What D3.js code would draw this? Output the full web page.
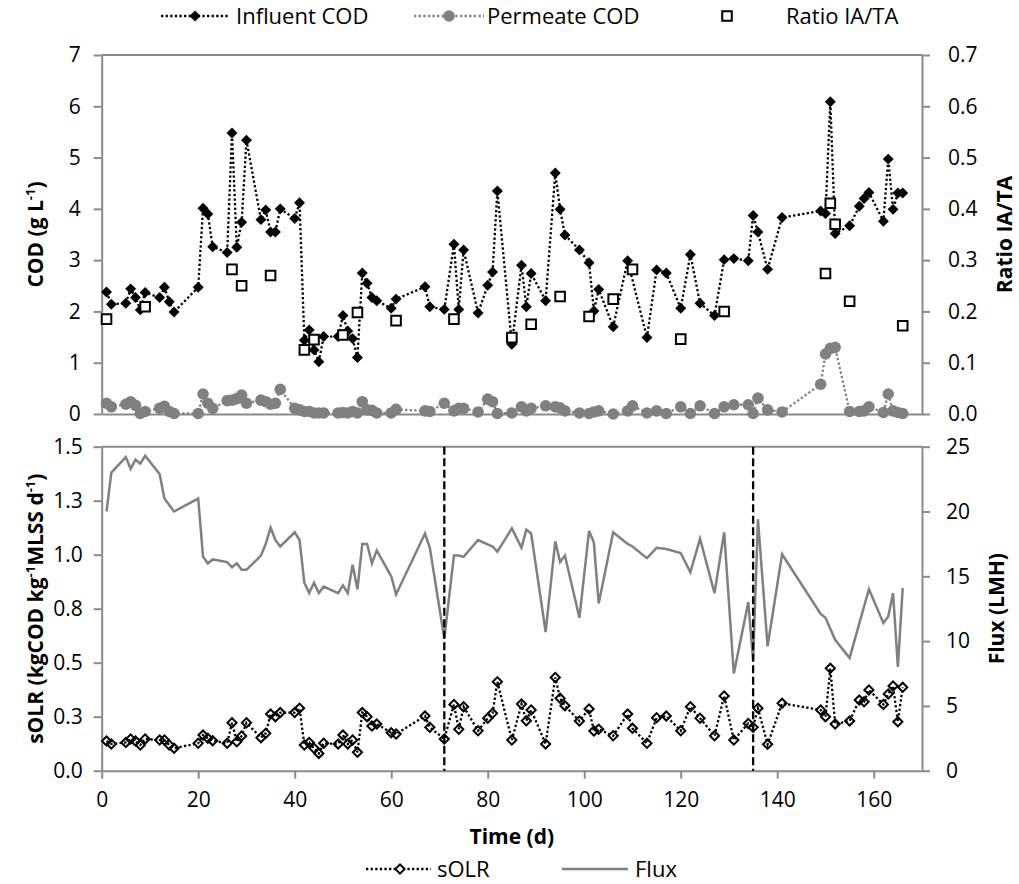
<!DOCTYPE html>
<html><head><meta charset="utf-8">
<script src="https://cdn.jsdelivr.net/npm/d3@7"></script>
<style>
html,body{margin:0;padding:0;background:#fff;}
svg text{font-family:"Open Sans","DejaVu Sans",sans-serif;fill:#000;}
</style></head>
<body>
<svg id="chart" width="1019" height="884"></svg>
<script>
// ---------- data ----------
const influentDays = [1,2,5,6,7,8,9,12,13,14,15,20,21,22,23,26,27,28,29,30,33,34,35,36,37,40,41,42,43,44,45,46,49,50,51,52,53,54,55,56,57,60,61,67,68,71,73,74,75,78,80,81,82,85,87,88,89,92,94,95,96,99,101,102,103,106,109,113,115,117,120,122,124,127,129,131,134,135,136,138,141,149,150,151,152,155,157,158,159,162,163,164,165,166];
const influentCOD = [2.38,2.14,2.16,2.44,2.27,2.03,2.37,2.27,2.47,2.19,1.99,2.47,4.01,3.90,3.26,3.15,5.48,3.25,3.74,5.34,3.79,3.98,3.55,3.55,4.00,3.81,4.12,1.44,1.64,1.25,1.02,1.51,1.51,1.92,1.62,1.47,1.10,2.75,2.55,2.27,2.21,2.06,2.24,2.48,2.09,2.04,3.31,2.04,3.20,1.97,2.51,2.77,4.35,1.36,2.90,2.09,2.74,2.21,4.70,3.99,3.49,3.20,2.95,2.01,2.43,1.70,2.99,1.49,2.81,2.75,2.06,3.11,2.16,1.92,3.01,3.03,2.99,3.87,3.55,2.82,3.83,3.96,3.91,6.09,3.52,3.67,4.05,4.20,4.32,3.76,4.97,3.99,4.31,4.31];

const permeateDays = [1,2,5,6,7,8,9,12,13,14,15,20,21,22,23,26,27,28,29,30,33,34,35,36,37,40,41,42,43,44,45,46,49,50,51,52,53,54,55,56,57,60,61,67,68,71,73,74,75,78,80,81,82,85,87,88,89,92,94,95,96,99,101,102,103,106,109,110,113,115,117,120,122,124,127,129,131,134,135,136,138,141,149,150,151,152,155,157,158,159,162,163,164,165,166];
const permeateCOD = [0.21,0.14,0.19,0.24,0.17,0.01,0.05,0.11,0.15,0.05,0.01,0.01,0.39,0.21,0.11,0.26,0.27,0.30,0.37,0.21,0.27,0.24,0.19,0.21,0.48,0.11,0.08,0.05,0.05,0.02,0.02,0.02,0.02,0.03,0.02,0.05,0.02,0.24,0.08,0.07,0.02,0.02,0.09,0.06,0.05,0.21,0.06,0.11,0.11,0.04,0.29,0.24,0.01,0.02,0.14,0.06,0.11,0.16,0.14,0.12,0.06,0.02,0.01,0.04,0.06,0.00,0.06,0.16,0.02,0.06,0.01,0.14,0.01,0.16,0.01,0.14,0.18,0.18,0.01,0.31,0.08,0.04,0.58,1.17,1.28,1.30,0.05,0.05,0.06,0.14,0.03,0.39,0.06,0.03,0.01];

const ratioDays = [1,9,27,29,35,42,44,50,53,61,73,85,89,95,101,106,110,120,129,150,151,152,155,166];
const ratioIATA = [0.185,0.209,0.282,0.250,0.270,0.125,0.145,0.154,0.198,0.182,0.185,0.149,0.175,0.229,0.190,0.224,0.282,0.146,0.200,0.274,0.411,0.370,0.220,0.172];

const fluxDays = [1,2,5,6,7,8,9,12,13,15,20,21,22,23,26,27,28,29,30,33,34,35,36,37,40,41,42,43,44,45,46,49,50,51,52,53,54,55,56,57,60,61,67,68,71,73,74,75,78,81,82,85,87,88,89,92,94,95,96,99,101,102,103,106,109,110,113,115,117,120,122,124,127,129,131,134,135,136,138,141,149,150,152,155,159,162,163,164,165,166];
const fluxLMH = [20.0,23.0,24.2,23.3,24.0,23.7,24.3,22.9,21.0,20.0,21.0,16.5,16.0,16.3,16.1,15.7,16.0,15.5,15.5,16.6,17.5,18.75,17.8,17.3,18.4,17.8,14.5,13.7,14.5,13.7,14.2,13.7,14.3,13.7,15.9,14.0,17.5,17.5,16.0,17.0,15.0,13.6,18.3,17.2,10.2,16.6,16.6,16.5,17.8,17.3,16.9,18.7,17.2,18.6,18.3,10.7,17.7,16.1,16.6,11.8,18.5,17.6,12.9,18.4,17.5,17.3,16.4,17.2,17.1,16.8,15.3,17.9,13.7,18.4,7.5,13.0,8.5,19.4,9.6,16.7,12.1,11.8,10.1,8.7,14.0,11.4,11.9,13.7,8.0,14.1];

const solrDays = [1,2,5,6,7,8,9,12,13,14,15,20,21,22,23,26,27,28,29,30,33,34,35,36,37,40,41,42,43,44,45,46,49,50,51,52,53,54,55,56,57,60,61,67,68,71,73,74,75,78,80,81,82,85,87,88,89,92,94,95,96,99,101,102,103,106,109,110,113,115,117,120,122,124,127,129,131,134,135,136,138,141,149,150,151,152,155,157,158,159,162,163,164,165,166];
const sOLR = [0.137,0.124,0.131,0.147,0.137,0.119,0.147,0.142,0.142,0.119,0.104,0.127,0.165,0.150,0.139,0.127,0.222,0.134,0.161,0.222,0.153,0.173,0.262,0.250,0.269,0.269,0.289,0.119,0.131,0.104,0.080,0.127,0.124,0.165,0.124,0.142,0.085,0.269,0.250,0.207,0.216,0.176,0.170,0.253,0.201,0.147,0.307,0.192,0.296,0.185,0.243,0.266,0.412,0.142,0.309,0.231,0.281,0.124,0.432,0.335,0.301,0.230,0.286,0.184,0.192,0.162,0.262,0.196,0.127,0.245,0.253,0.185,0.296,0.243,0.162,0.346,0.142,0.219,0.201,0.289,0.122,0.312,0.281,0.250,0.474,0.216,0.230,0.327,0.319,0.374,0.307,0.355,0.392,0.227,0.386];

const phaseDays = [71, 135];

const xTicks = [0,20,40,60,80,100,120,140,160];
const codTicks = [0,1,2,3,4,5,6,7];
const codTickLabels = ["0","1","2","3","4","5","6","7"];
const ratioTicks = [0,0.1,0.2,0.3,0.4,0.5,0.6,0.7];
const ratioTickLabels = ["0.0","0.1","0.2","0.3","0.4","0.5","0.6","0.7"];
const solrTicks = [0,0.25,0.5,0.75,1.0,1.25,1.5];
const solrTickLabels = ["0.0","0.3","0.5","0.8","1.0","1.3","1.5"];
const fluxTicks = [0,5,10,15,20,25];
const fluxTickLabels = ["0","5","10","15","20","25"];

// ---------- layout ----------
const svg = d3.select("#chart");
const L = 101.7, R = 922;
const topT = 55, topB = 414, botT = 446.7, botB = 770.7;
const AX = "#8a8a8a", GR = "#808080";
const FS = 21, LFS = 22;

const x = d3.scaleLinear().domain([0,170]).range([L,R]);
const yCOD = d3.scaleLinear().domain([0,7]).range([topB,topT]);
const yRatio = d3.scaleLinear().domain([0,0.7]).range([topB,topT]);
const ySOLR = d3.scaleLinear().domain([0,1.5]).range([botB,botT]);
const yFlux = d3.scaleLinear().domain([0,25]).range([botB,botT]);

function styleAxis(g){
  g.selectAll("path.domain").attr("stroke",AX).attr("stroke-width",2);
  g.selectAll(".tick line").attr("stroke",AX).attr("stroke-width",2);
  g.selectAll(".tick text").attr("font-size",FS).attr("font-family","Open Sans").attr("fill","#000");
}
function lbl(vals,labels){ return (d)=> labels[vals.indexOf(d)]; }

// top border lines
svg.append("line").attr("x1",L).attr("x2",R).attr("y1",topT).attr("y2",topT).attr("stroke",AX).attr("stroke-width",2);
svg.append("line").attr("x1",L).attr("x2",R).attr("y1",botT).attr("y2",botT).attr("stroke",AX).attr("stroke-width",2);

// top axes
svg.append("g").attr("transform",`translate(${L},0)`)
  .call(d3.axisLeft(yCOD).tickValues(codTicks).tickFormat(lbl(codTicks,codTickLabels)).tickSize(8).tickSizeOuter(0).tickPadding(13))
  .call(styleAxis);
svg.append("g").attr("transform",`translate(${R},0)`)
  .call(d3.axisRight(yRatio).tickValues(ratioTicks).tickFormat(lbl(ratioTicks,ratioTickLabels)).tickSize(8).tickSizeOuter(0).tickPadding(18))
  .call(styleAxis);
svg.append("g").attr("transform",`translate(0,${topB})`)
  .call(d3.axisBottom(x).tickValues([]).tickSizeOuter(0))
  .call(styleAxis);

// bottom axes
svg.append("g").attr("transform",`translate(${L},0)`)
  .call(d3.axisLeft(ySOLR).tickValues(solrTicks).tickFormat(lbl(solrTicks,solrTickLabels)).tickSize(8).tickSizeOuter(0).tickPadding(11))
  .call(styleAxis);
svg.append("g").attr("transform",`translate(${R},0)`)
  .call(d3.axisRight(yFlux).tickValues(fluxTicks).tickFormat(lbl(fluxTicks,fluxTickLabels)).tickSize(8).tickSizeOuter(0).tickPadding(16))
  .call(styleAxis);
svg.append("g").attr("transform",`translate(0,${botB})`)
  .call(d3.axisBottom(x).tickValues(xTicks).tickSize(8).tickSizeOuter(0).tickPadding(13))
  .call(styleAxis);

// axis titles
function vTitle(cx, cy, parts){
  const t = svg.append("text").attr("transform",`translate(${cx},${cy}) rotate(-90)`)
    .attr("text-anchor","middle").attr("font-weight","bold").attr("font-size",FS).attr("dy","0.35em");
  let shift = 0;
  parts.forEach(p=>{
    if(p.sup){
      t.append("tspan").attr("font-size",13).attr("dy",-8).text(p.t);
      shift = 8;
    } else {
      const s = t.append("tspan").text(p.t);
      if(shift){ s.attr("dy",shift); shift = 0; }
    }
  });
  return t;
}
vTitle(36, (topT+topB)/2, [{t:"COD (g L"},{t:"-1",sup:true},{t:")"}]);
vTitle(1005, (topT+topB)/2, [{t:"Ratio IA/TA"}]);
vTitle(36, (botT+botB)/2, [{t:"sOLR (kgCOD kg"},{t:"-1",sup:true},{t:"MLSS d"},{t:"-1",sup:true},{t:")"}]);
vTitle(997, (botT+botB)/2, [{t:"Flux (LMH)"}]);
svg.append("text").attr("x",(L+R)/2).attr("y",844).attr("text-anchor","middle")
  .attr("font-weight","bold").attr("font-size",FS).text("Time (d)");

// ---------- top panel series ----------
const diamond = d3.symbol().type(d3.symbolSquare).size(60);
const hollowDiamond = d3.symbol().type(d3.symbolSquare).size(42);
const square = d3.symbol().type(d3.symbolSquare).size(92);

const infl = influentDays.map((d,i)=>({d, v:influentCOD[i]}));
const perm = permeateDays.map((d,i)=>({d, v:permeateCOD[i]}));
const rat = ratioDays.map((d,i)=>({d, v:ratioIATA[i]}));
const flx = fluxDays.map((d,i)=>({d, v:fluxLMH[i]}));
const sol = solrDays.map((d,i)=>({d, v:sOLR[i]}));

const lineCOD = d3.line().x(p=>x(p.d)).y(p=>yCOD(p.v));
svg.append("path").datum(infl).attr("d",lineCOD).attr("fill","none")
  .attr("stroke","#000").attr("stroke-width",2.3).attr("stroke-dasharray","2.3,2.3");
svg.append("g").selectAll("path").data(infl).join("path")
  .attr("d",diamond).attr("transform",p=>`translate(${x(p.d)},${yCOD(p.v)}) rotate(45)`).attr("fill","#000");

svg.append("path").datum(perm).attr("d",lineCOD).attr("fill","none")
  .attr("stroke",GR).attr("stroke-width",2.3).attr("stroke-dasharray","2.3,2.3");
svg.append("g").selectAll("circle").data(perm).join("circle")
  .attr("cx",p=>x(p.d)).attr("cy",p=>yCOD(p.v)).attr("r",5.8).attr("fill",GR);

svg.append("g").selectAll("path").data(rat).join("path")
  .attr("d",square).attr("transform",p=>`translate(${x(p.d)},${yRatio(p.v)})`)
  .attr("fill","#fff").attr("stroke","#000").attr("stroke-width",2);

// ---------- bottom panel series ----------
svg.append("path").datum(flx).attr("d",d3.line().x(p=>x(p.d)).y(p=>yFlux(p.v)))
  .attr("fill","none").attr("stroke",GR).attr("stroke-width",2.5).attr("stroke-linejoin","miter");

svg.append("path").datum(sol).attr("d",d3.line().x(p=>x(p.d)).y(p=>ySOLR(p.v)))
  .attr("fill","none").attr("stroke","#000").attr("stroke-width",2.3).attr("stroke-dasharray","2.3,2.3");

svg.append("g").selectAll("line").data(phaseDays).join("line")
  .attr("x1",d=>x(d)).attr("x2",d=>x(d)).attr("y1",botT).attr("y2",botB)
  .attr("stroke","#000").attr("stroke-width",2.3).attr("stroke-dasharray","8,3.5");

svg.append("g").selectAll("path").data(sol).join("path")
  .attr("d",hollowDiamond).attr("transform",p=>`translate(${x(p.d)},${ySOLR(p.v)}) rotate(45)`)
  .attr("fill","none").attr("stroke","#000").attr("stroke-width",2);

// ---------- legends ----------
const LY = 16;
function legLine(x1,x2,y,color,dotted){
  svg.append("line").attr("x1",x1).attr("x2",x2).attr("y1",y).attr("y2",y)
    .attr("stroke",color).attr("stroke-width",dotted?2.3:2.5).attr("stroke-dasharray",dotted?"2.3,2.3":null);
}
function legText(xp,y,t){
  svg.append("text").attr("x",xp).attr("y",y).attr("dy","0.35em").attr("font-size",LFS).text(t);
}
legLine(161,230,LY,"#000",true);
svg.append("path").attr("d",diamond).attr("transform",`translate(195,${LY}) rotate(45)`).attr("fill","#000");
legText(236,LY,"Influent COD");
legLine(414,484,LY,GR,true);
svg.append("circle").attr("cx",449).attr("cy",LY).attr("r",5.8).attr("fill",GR);
legText(487,LY,"Permeate COD");
svg.append("path").attr("d",square).attr("transform",`translate(727,${LY})`).attr("fill","#fff").attr("stroke","#000").attr("stroke-width",2);
legText(786,LY,"Ratio IA/TA");

const BY = 869;
legLine(366,431,BY,"#000",true);
svg.append("path").attr("d",hollowDiamond).attr("transform",`translate(400,${BY}) rotate(45)`).attr("fill","#fff").attr("stroke","#000").attr("stroke-width",2);
legText(437,BY,"sOLR");
legLine(562,628,BY,GR,false);
legText(635,BY,"Flux");
</script>
</body></html>
